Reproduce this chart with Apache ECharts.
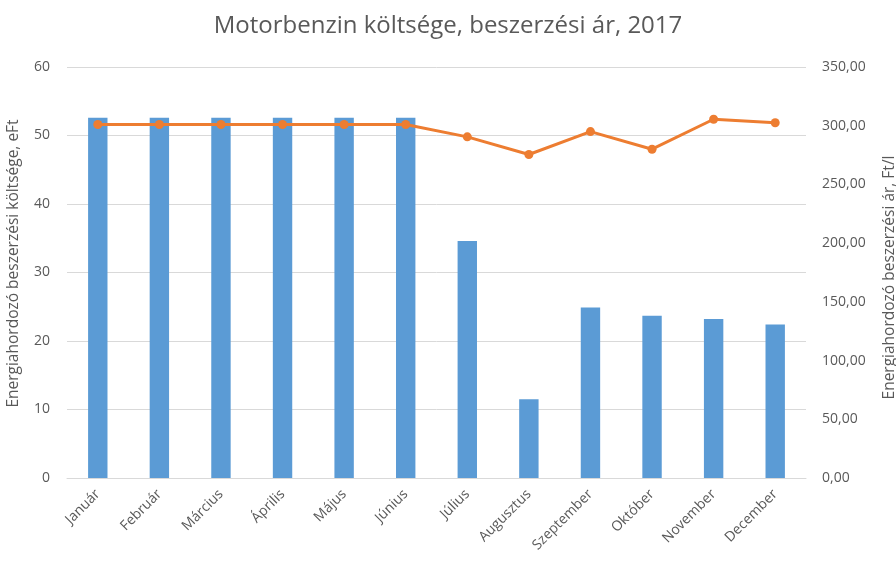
<!DOCTYPE html>
<html>
<head>
<meta charset="utf-8">
<script src="https://cdn.jsdelivr.net/npm/echarts@6/dist/echarts.min.js"></script>
<style>html,body{margin:0;padding:0;background:#fff}#c{width:896px;height:561px}</style>
</head>
<body>
<div id="c"></div>
<script>
const titleText = 'Motorbenzin költsége, beszerzési ár, 2017';
const months = ['Január','Február','Március','Április','Május','Június','Július','Augusztus','Szeptember','Október','November','December'];
const costValues = [52.6, 52.6, 52.6, 52.6, 52.6, 52.6, 34.6, 11.5, 24.9, 23.7, 23.2, 22.4];
const priceValues = [301, 301, 301, 301, 301, 301, 290.5, 275.5, 295, 280, 305.5, 302.5];
const leftAxisName = 'Energiahordozó beszerzési költsége, eFt';
const rightAxisName = 'Energiahordozó beszerzési ár, Ft/l';

const font = '"Open Sans", "Noto Sans", sans-serif';
const txt = '#595959';
const chart = echarts.init(document.getElementById('c'), null, {renderer: 'canvas'});
chart.setOption({
  animation: false,
  backgroundColor: '#fff',
  title: {
    text: titleText, left: 'center', top: 9,
    textStyle: {fontFamily: font, fontSize: 24, fontWeight: 'normal', color: txt}
  },
  grid: {left: 67, right: 90, top: 67, bottom: 83, containLabel: false, outerBoundsMode: 'none'},
  xAxis: {
    type: 'category', data: months,
    axisLine: {show: true, lineStyle: {color: '#D9D9D9', width: 1}},
    axisTick: {show: false},
    axisLabel: {interval: 0, rotate: 45, fontFamily: font, fontSize: 14, color: txt, margin: 14, hideOverlap: false}
  },
  yAxis: [
    {
      type: 'value', min: 0, max: 60, interval: 10,
      name: leftAxisName, nameLocation: 'middle', nameRotate: 90, nameGap: 45,
      nameTextStyle: {fontFamily: font, fontSize: 15.5, color: txt, padding: [0, 0, 0, 18]},
      axisLine: {show: false}, axisTick: {show: false},
      axisLabel: {fontFamily: font, fontSize: 14, color: txt, margin: 17},
      splitLine: {lineStyle: {color: '#D9D9D9', width: 1}}
    },
    {
      type: 'value', min: 0, max: 350, interval: 50, position: 'right',
      name: rightAxisName, nameLocation: 'middle', nameRotate: 90, nameGap: 76,
      nameTextStyle: {fontFamily: font, fontSize: 15.5, color: txt, padding: [0, 0, 0, -10]},
      axisLine: {show: false}, axisTick: {show: false},
      axisLabel: {fontFamily: font, fontSize: 14, color: txt, margin: 16,
        formatter: v => v.toFixed(2).replace('.', ',')},
      splitLine: {show: false}
    }
  ],
  series: [
    {
      type: 'bar', data: costValues, yAxisIndex: 0, barWidth: '31.5%',
      itemStyle: {color: '#5B9BD5'}
    },
    {
      type: 'line', data: priceValues, yAxisIndex: 1,
      symbol: 'circle', symbolSize: 9,
      lineStyle: {color: '#ED7D31', width: 3},
      itemStyle: {color: '#ED7D31'}
    }
  ]
});
</script>
</body>
</html>
